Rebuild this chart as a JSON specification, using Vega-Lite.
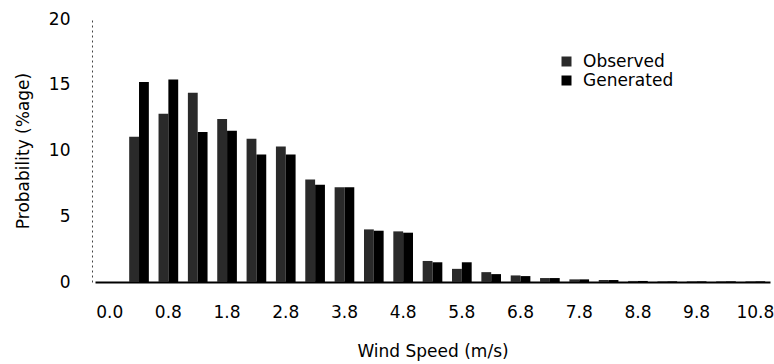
{
  "$schema": "https://vega.github.io/schema/vega-lite/v6.json",
  "autosize": {"type": "none"},
  "padding": {"left": 95, "top": 19, "right": 4, "bottom": 82},
  "width": 675,
  "height": 263,
  "background": "#ffffff",
  "config": {
    "view": {"stroke": null},
    "font": "DejaVu Sans",
    "axis": {"grid": false, "ticks": false, "labelColor": "#000", "titleColor": "#000", "labelFont": "DejaVu Sans", "titleFont": "DejaVu Sans", "titleFontWeight": "normal"}
  },
  "data": {
    "values": [
      {"speed": "0.0", "series": "Observed", "value": 0},
      {"speed": "0.0", "series": "Generated", "value": 0},
      {"speed": "0.3", "series": "Observed", "value": 11.05},
      {"speed": "0.3", "series": "Generated", "value": 15.2},
      {"speed": "0.8", "series": "Observed", "value": 12.8},
      {"speed": "0.8", "series": "Generated", "value": 15.4},
      {"speed": "1.3", "series": "Observed", "value": 14.4},
      {"speed": "1.3", "series": "Generated", "value": 11.4},
      {"speed": "1.8", "series": "Observed", "value": 12.4},
      {"speed": "1.8", "series": "Generated", "value": 11.5},
      {"speed": "2.3", "series": "Observed", "value": 10.9},
      {"speed": "2.3", "series": "Generated", "value": 9.7},
      {"speed": "2.8", "series": "Observed", "value": 10.3},
      {"speed": "2.8", "series": "Generated", "value": 9.7},
      {"speed": "3.3", "series": "Observed", "value": 7.8},
      {"speed": "3.3", "series": "Generated", "value": 7.4},
      {"speed": "3.8", "series": "Observed", "value": 7.2},
      {"speed": "3.8", "series": "Generated", "value": 7.2},
      {"speed": "4.3", "series": "Observed", "value": 4.0},
      {"speed": "4.3", "series": "Generated", "value": 3.9},
      {"speed": "4.8", "series": "Observed", "value": 3.85},
      {"speed": "4.8", "series": "Generated", "value": 3.75},
      {"speed": "5.3", "series": "Observed", "value": 1.6},
      {"speed": "5.3", "series": "Generated", "value": 1.5},
      {"speed": "5.8", "series": "Observed", "value": 1.0},
      {"speed": "5.8", "series": "Generated", "value": 1.5},
      {"speed": "6.3", "series": "Observed", "value": 0.75},
      {"speed": "6.3", "series": "Generated", "value": 0.6},
      {"speed": "6.8", "series": "Observed", "value": 0.5},
      {"speed": "6.8", "series": "Generated", "value": 0.45},
      {"speed": "7.3", "series": "Observed", "value": 0.3},
      {"speed": "7.3", "series": "Generated", "value": 0.3},
      {"speed": "7.8", "series": "Observed", "value": 0.2},
      {"speed": "7.8", "series": "Generated", "value": 0.2},
      {"speed": "8.3", "series": "Observed", "value": 0.15},
      {"speed": "8.3", "series": "Generated", "value": 0.15},
      {"speed": "8.8", "series": "Observed", "value": 0.08},
      {"speed": "8.8", "series": "Generated", "value": 0.08},
      {"speed": "9.3", "series": "Observed", "value": 0.05},
      {"speed": "9.3", "series": "Generated", "value": 0.05},
      {"speed": "9.8", "series": "Observed", "value": 0.05},
      {"speed": "9.8", "series": "Generated", "value": 0.05},
      {"speed": "10.3", "series": "Observed", "value": 0.05},
      {"speed": "10.3", "series": "Generated", "value": 0.05},
      {"speed": "10.8", "series": "Observed", "value": 0.05},
      {"speed": "10.8", "series": "Generated", "value": 0.05}
    ]
  },
  "mark": {"type": "bar"},
  "encoding": {
    "x": {
      "field": "speed",
      "type": "nominal",
      "sort": null,
      "scale": {"paddingInner": 0.33, "paddingOuter": 0.165},
      "axis": {
        "title": "Wind Speed (m/s)",
        "values": ["0.0", "0.8", "1.8", "2.8", "3.8", "4.8", "5.8", "6.8", "7.8", "8.8", "9.8", "10.8"],
        "labelAngle": 0,
        "labelFontSize": 17,
        "labelPadding": 22,
        "titleFontSize": 17,
        "titlePadding": 23,
        "domainColor": "#000",
        "domainWidth": 2
      }
    },
    "xOffset": {"field": "series", "type": "nominal", "sort": ["Observed", "Generated"], "scale": {"paddingInner": 0, "paddingOuter": 0}},
    "y": {
      "field": "value",
      "type": "quantitative",
      "scale": {"domain": [0, 20], "nice": false},
      "axis": {
        "title": "Probability (%age)",
        "values": [0, 5, 10, 15, 20],
        "labelFontSize": 17,
        "labelPadding": 22,
        "offset": 3,
        "titleFontSize": 17,
        "titlePadding": 16,
        "domainColor": "#444",
        "domainWidth": 1,
        "domainDash": [2, 3]
      }
    },
    "color": {
      "field": "series",
      "type": "nominal",
      "sort": ["Observed", "Generated"],
      "scale": {"domain": ["Observed", "Generated"], "range": ["#2a2a2a", "#000000"]},
      "legend": {
        "title": null,
        "orient": "none",
        "legendX": 463,
        "legendY": 34,
        "padding": 0,
        "rowPadding": 1,
        "symbolType": "square",
        "symbolSize": 100,
        "symbolFillColor": "#000",
        "symbolStrokeWidth": 0,
        "labelFontSize": 17,
        "labelFont": "DejaVu Sans",
        "labelColor": "#000",
        "labelOffset": 8
      }
    }
  }
}
